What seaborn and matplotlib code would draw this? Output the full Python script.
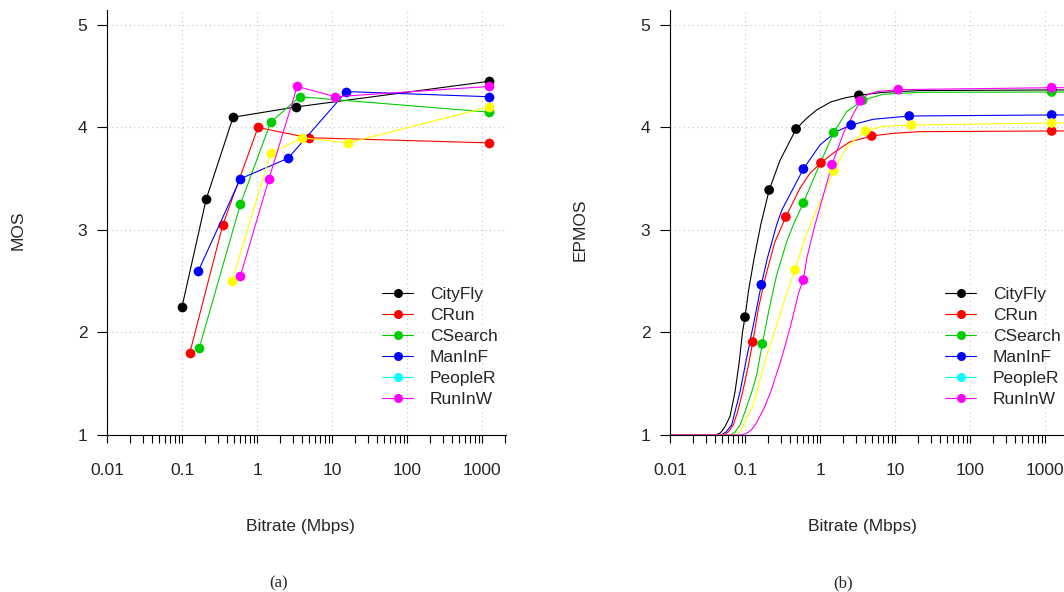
import matplotlib
matplotlib.use("Agg")
import matplotlib.pyplot as plt
import matplotlib.ticker as mticker
from matplotlib.lines import Line2D
import seaborn as sns
import pandas as pd

# Clip names and colours (PeopleR is drawn yellow but listed cyan in the legend)
CLIPS = ["CityFly", "CRun", "CSearch", "ManInF", "PeopleR", "RunInW"]
PLOT_COLORS = ["#000000", "#FF0000", "#00CD00", "#0000FF", "#FFFF00", "#FF00FF"]
LEGEND_COLORS = ["#000000", "#FF0000", "#00CD00", "#0000FF", "#00FFFF", "#FF00FF"]

# Measured bitrates (Mbps) per clip
BITRATE_CITYFLY = [0.1, 0.21, 0.48, 3.3, 1228]
BITRATE_CRUN = [0.127, 0.35, 1.03, 4.88, 1228]
BITRATE_CSEARCH = [0.17, 0.6, 1.52, 3.7, 1228]
BITRATE_MANINF = [0.165, 0.6, 2.6, 15.5, 1228]
BITRATE_PEOPLER = [0.464, 1.52, 4.02, 16.5, 1228]
BITRATE_RUNINW = [0.6, 1.445, 3.44, 11.07, 1228]

# Subjective MOS (panel a)
MOS_CITYFLY = [2.25, 3.3, 4.1, 4.2, 4.45]
MOS_CRUN = [1.8, 3.05, 4.0, 3.9, 3.85]
MOS_CSEARCH = [1.85, 3.25, 4.05, 4.3, 4.15]
MOS_MANINF = [2.6, 3.5, 3.7, 4.35, 4.3]
MOS_PEOPLER = [2.5, 3.75, 3.9, 3.85, 4.2]
MOS_RUNINW = [2.55, 3.5, 4.4, 4.3, 4.4]

# Estimated MOS at the measured bitrates (panel b)
EPMOS_CITYFLY = [2.15, 3.39, 3.985, 4.314, 4.366]
EPMOS_CRUN = [1.907, 3.127, 3.654, 3.917, 3.966]
EPMOS_CSEARCH = [1.888, 3.263, 3.949, 4.265, 4.346]
EPMOS_MANINF = [2.466, 3.595, 4.024, 4.112, 4.122]
EPMOS_PEOPLER = [2.61, 3.576, 3.966, 4.024, 4.044]
EPMOS_RUNINW = [2.512, 3.637, 4.26, 4.369, 4.388]

# Fitted curves
FIT_X_CITYFLY = [0.01, 0.04, 0.047, 0.054, 0.063, 0.0736, 0.084, 0.0925, 0.1, 0.111, 0.132,
                 0.162, 0.21, 0.293, 0.48, 0.664, 0.9, 1.4, 2.2, 3.3, 6.92, 21.5, 1228, 2100]
FIT_Y_CITYFLY = [1.0, 1.0, 1.02, 1.08, 1.18, 1.42, 1.72, 2.0, 2.15, 2.40, 2.72,
                 3.05, 3.39, 3.68, 3.985, 4.09, 4.17, 4.25, 4.29, 4.314, 4.343, 4.36, 4.366, 4.366]
FIT_X_CRUN = [0.01, 0.052, 0.06, 0.0698, 0.08, 0.093, 0.111, 0.127, 0.151, 0.19, 0.251, 0.35,
              0.54, 0.735, 1.03, 1.5, 2.51, 4.88, 9.5, 21.5, 1228, 2100]
FIT_Y_CRUN = [1.0, 1.0, 1.03, 1.098, 1.23, 1.42, 1.68, 1.907, 2.236, 2.56, 2.886, 3.127,
              3.407, 3.553, 3.654, 3.75, 3.86, 3.917, 3.943, 3.959, 3.966, 3.966]
FIT_X_CSEARCH = [0.01, 0.064, 0.074, 0.0858, 0.1, 0.123, 0.143, 0.17, 0.211, 0.264, 0.36,
                 0.44, 0.6, 0.9, 1.52, 2.27, 3.7, 6.9, 21.5, 1228, 2100]
FIT_Y_CSEARCH = [1.0, 1.0, 1.03, 1.098, 1.227, 1.42, 1.585, 1.888, 2.236, 2.56, 2.886,
                 3.05, 3.263, 3.57, 3.949, 4.155, 4.265, 4.324, 4.343, 4.346, 4.346]
FIT_X_MANINF = [0.01, 0.048, 0.056, 0.0664, 0.0858, 0.105, 0.129, 0.165, 0.198, 0.264, 0.31,
                0.6, 1.0, 1.65, 2.6, 5.14, 15.5, 1228, 2100]
FIT_Y_MANINF = [1.0, 1.0, 1.03, 1.098, 1.42, 1.75, 2.07, 2.466, 2.72, 3.05, 3.195,
                3.595, 3.83, 3.96, 4.024, 4.08, 4.112, 4.122, 4.122]
FIT_X_PEOPLER = [0.01, 0.078, 0.086, 0.095, 0.123, 0.143, 0.19, 0.264, 0.366, 0.464, 0.612,
                 0.735, 1.52, 2.27, 4.02, 6.9, 16.5, 1228, 2100]
FIT_Y_PEOPLER = [1.0, 1.0, 1.03, 1.098, 1.26, 1.42, 1.75, 2.07, 2.40, 2.61, 2.886,
                 3.05, 3.576, 3.81, 3.966, 4.01, 4.024, 4.044, 4.044]
FIT_X_RUNINW = [0.01, 0.088, 0.1, 0.112, 0.125, 0.14, 0.179, 0.22, 0.308, 0.407, 0.525, 0.6, 0.664,
                0.857, 1.445, 2.05, 3.44, 4.19, 5.7, 11.07, 1228, 2100]
FIT_Y_RUNINW = [1.0, 1.0, 1.01, 1.03, 1.06, 1.11, 1.26, 1.42, 1.75, 2.07, 2.40, 2.512, 2.72,
                3.05, 3.637, 3.943, 4.26, 4.317, 4.35, 4.369, 4.388, 4.388]

X_MAJOR = [0.01, 0.1, 1, 10, 100, 1000]
X_LABELS = ["0.01", "0.1", "1", "10", "100", "1000"]
Y_MAJOR = [1, 2, 3, 4, 5]

bitrates = [BITRATE_CITYFLY, BITRATE_CRUN, BITRATE_CSEARCH, BITRATE_MANINF, BITRATE_PEOPLER, BITRATE_RUNINW]
mos = [MOS_CITYFLY, MOS_CRUN, MOS_CSEARCH, MOS_MANINF, MOS_PEOPLER, MOS_RUNINW]
epmos = [EPMOS_CITYFLY, EPMOS_CRUN, EPMOS_CSEARCH, EPMOS_MANINF, EPMOS_PEOPLER, EPMOS_RUNINW]
fit_x = [FIT_X_CITYFLY, FIT_X_CRUN, FIT_X_CSEARCH, FIT_X_MANINF, FIT_X_PEOPLER, FIT_X_RUNINW]
fit_y = [FIT_Y_CITYFLY, FIT_Y_CRUN, FIT_Y_CSEARCH, FIT_Y_MANINF, FIT_Y_PEOPLER, FIT_Y_RUNINW]

points = pd.concat([pd.DataFrame({"clip": c, "bitrate": b, "mos": m, "epmos": e})
                    for c, b, m, e in zip(CLIPS, bitrates, mos, epmos)], ignore_index=True)
curves = pd.concat([pd.DataFrame({"clip": c, "bitrate": x, "epmos": y})
                    for c, x, y in zip(CLIPS, fit_x, fit_y)], ignore_index=True)

palette = dict(zip(CLIPS, PLOT_COLORS))

sns.set_style("white")
plt.rcParams["font.family"] = ["Liberation Sans", "DejaVu Sans"]
FS = 12.5

W, H = 1064, 592
fig = plt.figure(figsize=(W / 100, H / 100), dpi=100)
ax_a = fig.add_axes([107 / W, 1 - 435 / H, 399 / W, 425 / H])
ax_b = fig.add_axes([670 / W, 1 - 435 / H, 399 / W, 425 / H])

for ax in (ax_a, ax_b):
    ax.set_xscale("log")

sns.lineplot(data=points, x="bitrate", y="mos", hue="clip", palette=palette, hue_order=CLIPS,
             estimator=None, marker="o", markersize=7, markeredgewidth=0, linewidth=0.8,
             legend=False, ax=ax_a)

sns.lineplot(data=curves, x="bitrate", y="epmos", hue="clip", palette=palette, hue_order=CLIPS,
             estimator=None, linewidth=0.8, legend=False, ax=ax_b)
sns.scatterplot(data=points, x="bitrate", y="epmos", hue="clip", palette=palette, hue_order=CLIPS,
                s=49, linewidth=0, legend=False, ax=ax_b, zorder=3)

handles = [Line2D([], [], color=c, marker="o", markersize=6.5, markeredgewidth=0, linewidth=0.8)
           for c in LEGEND_COLORS]

for ax, ylab, ylab_x in ((ax_a, "MOS", 18), (ax_b, "EPMOS", 580)):
    ax.set_xlim(0.01, 2089)
    ax.set_ylim(1, 5.146)
    ax.xaxis.set_major_locator(mticker.FixedLocator(X_MAJOR))
    ax.xaxis.set_major_formatter(mticker.FixedFormatter(X_LABELS))
    ax.xaxis.set_minor_locator(mticker.LogLocator(base=10, subs=range(2, 10), numticks=20))
    ax.xaxis.set_minor_formatter(mticker.NullFormatter())
    ax.yaxis.set_major_locator(mticker.FixedLocator(Y_MAJOR))
    ax.grid(True, which="major", linestyle=(0, (1, 3)), color="#C8C8C8", linewidth=0.8)
    ax.tick_params(axis="x", which="both", direction="out", length=6, width=0.8,
                   color="black", pad=14, labelsize=FS, bottom=True)
    ax.tick_params(axis="y", which="major", direction="out", length=7.2, width=0.8,
                   color="black", pad=7, labelsize=FS, left=True)
    sns.despine(ax=ax)
    for side in ("left", "bottom"):
        ax.spines[side].set_color("black")
        ax.spines[side].set_linewidth(0.8)
    ax.set_xlabel("")
    ax.set_ylabel("")
    fig.text(ylab_x / W, 1 - 230 / H, ylab, rotation=90, ha="center", va="center", fontsize=FS)
    ax.legend(handles, CLIPS, loc="upper left", bbox_to_anchor=(0.6885, 0.349), frameon=False,
              fontsize=FS, borderpad=0, borderaxespad=0, handlelength=1.82,
              handletextpad=0.96, labelspacing=0.34)

fig.text(300 / W, 1 - 527 / H, "Bitrate (Mbps)", ha="center", va="center", fontsize=FS)
fig.text(862 / W, 1 - 527 / H, "Bitrate (Mbps)", ha="center", va="center", fontsize=FS)
fig.text(279 / W, 1 - 583 / H, "(a)", ha="center", va="center", fontsize=12,
         family=["Liberation Serif", "DejaVu Serif"])
fig.text(843 / W, 1 - 583 / H, "(b)", ha="center", va="center", fontsize=12,
         family=["Liberation Serif", "DejaVu Serif"])

fig.savefig("out.png", dpi=100)
plt.close(fig)
